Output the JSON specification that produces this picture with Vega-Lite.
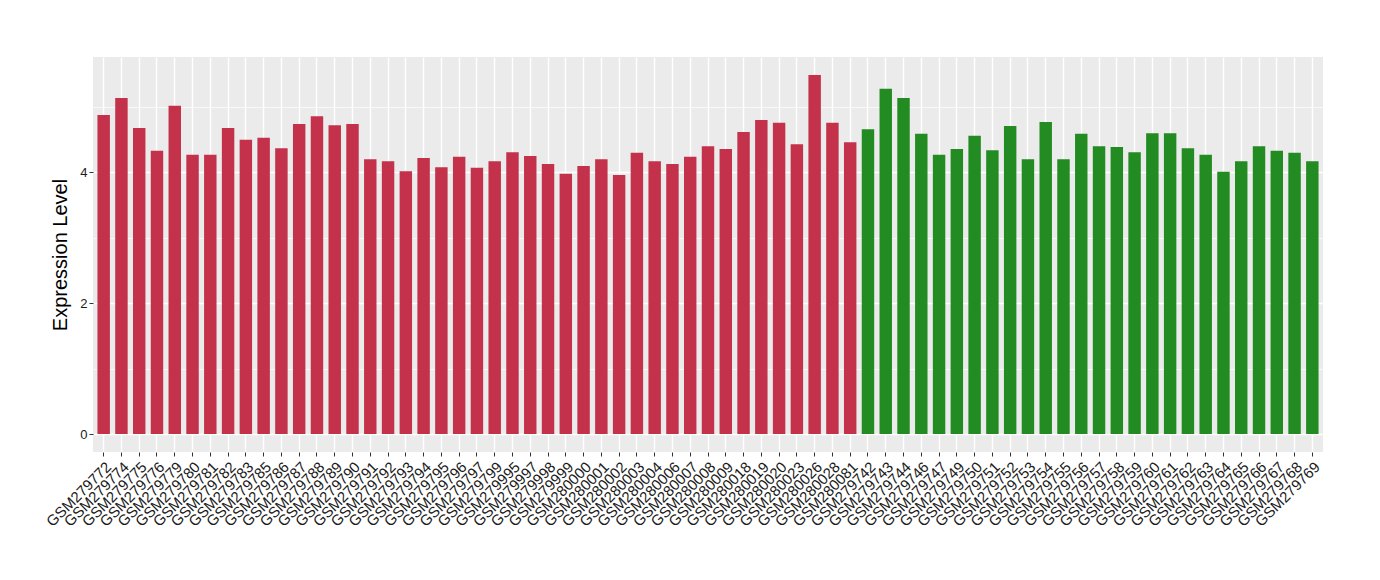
{
  "$schema": "https://vega.github.io/schema/vega-lite/v6.json",
  "autosize": {"type": "none"},
  "width": 1230,
  "height": 395,
  "padding": {"left": 93, "top": 57, "right": 57, "bottom": 128},
  "background": "white",
  "config": {
    "view": {"fill": "#EBEBEB", "stroke": null},
    "font": "Liberation Sans"
  },
  "data": {
    "values": [
      {"sample": "GSM279772", "value": 4.88, "group": "A"},
      {"sample": "GSM279774", "value": 5.14, "group": "A"},
      {"sample": "GSM279775", "value": 4.68, "group": "A"},
      {"sample": "GSM279776", "value": 4.33, "group": "A"},
      {"sample": "GSM279779", "value": 5.02, "group": "A"},
      {"sample": "GSM279780", "value": 4.27, "group": "A"},
      {"sample": "GSM279781", "value": 4.27, "group": "A"},
      {"sample": "GSM279782", "value": 4.68, "group": "A"},
      {"sample": "GSM279783", "value": 4.50, "group": "A"},
      {"sample": "GSM279785", "value": 4.53, "group": "A"},
      {"sample": "GSM279786", "value": 4.37, "group": "A"},
      {"sample": "GSM279787", "value": 4.74, "group": "A"},
      {"sample": "GSM279788", "value": 4.86, "group": "A"},
      {"sample": "GSM279789", "value": 4.72, "group": "A"},
      {"sample": "GSM279790", "value": 4.74, "group": "A"},
      {"sample": "GSM279791", "value": 4.20, "group": "A"},
      {"sample": "GSM279792", "value": 4.17, "group": "A"},
      {"sample": "GSM279793", "value": 4.02, "group": "A"},
      {"sample": "GSM279794", "value": 4.22, "group": "A"},
      {"sample": "GSM279795", "value": 4.08, "group": "A"},
      {"sample": "GSM279796", "value": 4.24, "group": "A"},
      {"sample": "GSM279797", "value": 4.07, "group": "A"},
      {"sample": "GSM279799", "value": 4.17, "group": "A"},
      {"sample": "GSM279995", "value": 4.31, "group": "A"},
      {"sample": "GSM279997", "value": 4.25, "group": "A"},
      {"sample": "GSM279998", "value": 4.13, "group": "A"},
      {"sample": "GSM279999", "value": 3.98, "group": "A"},
      {"sample": "GSM280000", "value": 4.10, "group": "A"},
      {"sample": "GSM280001", "value": 4.20, "group": "A"},
      {"sample": "GSM280002", "value": 3.96, "group": "A"},
      {"sample": "GSM280003", "value": 4.30, "group": "A"},
      {"sample": "GSM280004", "value": 4.17, "group": "A"},
      {"sample": "GSM280006", "value": 4.13, "group": "A"},
      {"sample": "GSM280007", "value": 4.24, "group": "A"},
      {"sample": "GSM280008", "value": 4.40, "group": "A"},
      {"sample": "GSM280009", "value": 4.36, "group": "A"},
      {"sample": "GSM280018", "value": 4.62, "group": "A"},
      {"sample": "GSM280019", "value": 4.80, "group": "A"},
      {"sample": "GSM280020", "value": 4.76, "group": "A"},
      {"sample": "GSM280023", "value": 4.43, "group": "A"},
      {"sample": "GSM280026", "value": 5.49, "group": "A"},
      {"sample": "GSM280028", "value": 4.76, "group": "A"},
      {"sample": "GSM280081", "value": 4.46, "group": "A"},
      {"sample": "GSM279742", "value": 4.66, "group": "B"},
      {"sample": "GSM279743", "value": 5.28, "group": "B"},
      {"sample": "GSM279744", "value": 5.14, "group": "B"},
      {"sample": "GSM279746", "value": 4.59, "group": "B"},
      {"sample": "GSM279747", "value": 4.27, "group": "B"},
      {"sample": "GSM279749", "value": 4.36, "group": "B"},
      {"sample": "GSM279750", "value": 4.56, "group": "B"},
      {"sample": "GSM279751", "value": 4.34, "group": "B"},
      {"sample": "GSM279752", "value": 4.71, "group": "B"},
      {"sample": "GSM279753", "value": 4.20, "group": "B"},
      {"sample": "GSM279754", "value": 4.77, "group": "B"},
      {"sample": "GSM279755", "value": 4.20, "group": "B"},
      {"sample": "GSM279756", "value": 4.59, "group": "B"},
      {"sample": "GSM279757", "value": 4.40, "group": "B"},
      {"sample": "GSM279758", "value": 4.39, "group": "B"},
      {"sample": "GSM279759", "value": 4.31, "group": "B"},
      {"sample": "GSM279760", "value": 4.60, "group": "B"},
      {"sample": "GSM279761", "value": 4.60, "group": "B"},
      {"sample": "GSM279762", "value": 4.37, "group": "B"},
      {"sample": "GSM279763", "value": 4.27, "group": "B"},
      {"sample": "GSM279764", "value": 4.01, "group": "B"},
      {"sample": "GSM279765", "value": 4.17, "group": "B"},
      {"sample": "GSM279766", "value": 4.40, "group": "B"},
      {"sample": "GSM279767", "value": 4.33, "group": "B"},
      {"sample": "GSM279768", "value": 4.30, "group": "B"},
      {"sample": "GSM279769", "value": 4.17, "group": "B"}
    ]
  },
  "mark": {"type": "bar"},
  "encoding": {
    "x": {
      "field": "sample",
      "type": "nominal",
      "sort": null,
      "scale": {"paddingInner": 0.3, "paddingOuter": 0.25},
      "axis": {
        "title": null,
        "labelAngle": -45,
        "labelAlign": "right",
        "labelBaseline": "top",
        "labelFontSize": 15,
        "labelColor": "#1a1a1a",
        "labelPadding": 3,
        "labelOverlap": false,
        "labelFont": "Liberation Sans",
        "tickSize": 4,
        "tickColor": "#333333",
        "tickWidth": 1,
        "domain": false,
        "grid": true,
        "gridColor": "white",
        "gridWidth": 1.4,
        "bandPosition": 0.5
      }
    },
    "y": {
      "field": "value",
      "type": "quantitative",
      "scale": {"domain": [-0.2745, 5.765], "nice": false, "zero": false},
      "axis": {
        "title": "Expression Level",
        "titleFontSize": 20,
        "titleFontWeight": "normal",
        "titleColor": "black",
        "titleFont": "Liberation Sans",
        "titlePadding": 9,
        "values": [0, 1, 2, 3, 4, 5],
        "labelExpr": "datum.value % 2 === 0 ? datum.label : ''",
        "labelFontSize": 13,
        "labelColor": "#1a1a1a",
        "labelPadding": 2,
        "labelFont": "Liberation Sans",
        "tickSize": 4,
        "tickColor": "#333333",
        "tickOpacity": {"condition": {"test": "datum.value % 2 === 0", "value": 1}, "value": 0},
        "domain": false,
        "grid": true,
        "gridColor": "white",
        "gridWidth": {"condition": {"test": "datum.value % 2 === 0", "value": 1.4}, "value": 0.7}
      }
    },
    "color": {
      "field": "group",
      "type": "nominal",
      "scale": {"domain": ["A", "B"], "range": ["#C3314A", "#228B22"]},
      "legend": null
    }
  }
}
